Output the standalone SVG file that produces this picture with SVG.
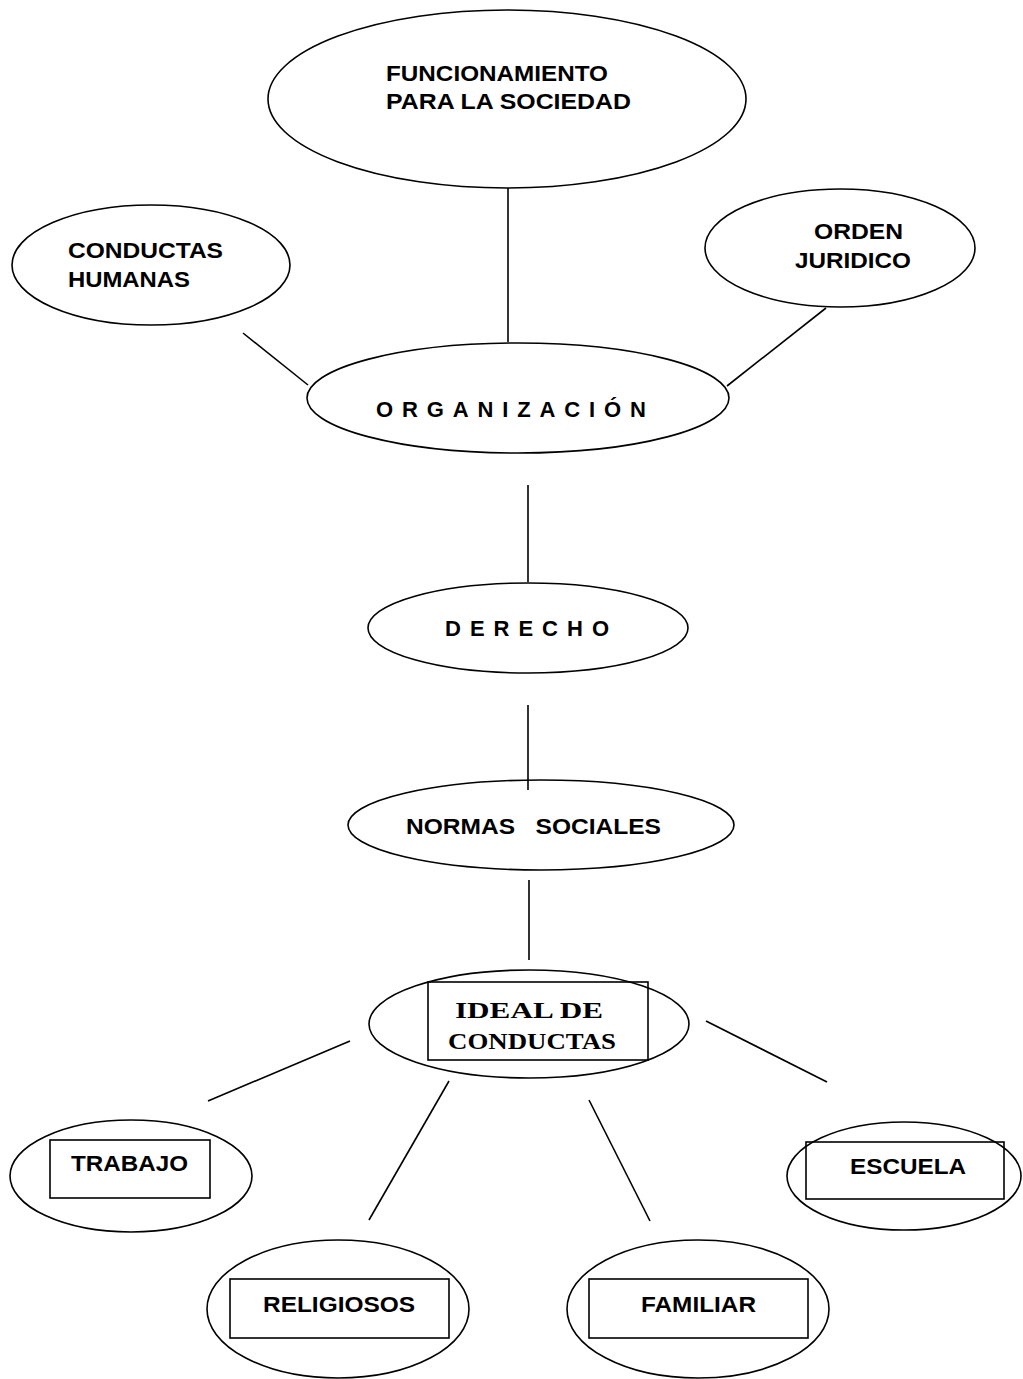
<svg xmlns="http://www.w3.org/2000/svg" width="1023" height="1379" viewBox="0 0 1023 1379">
<style>
.e{fill:none;stroke:#000;stroke-width:1.6}
.r{fill:none;stroke:#000;stroke-width:1.6}
.c line{stroke:#000;stroke-width:1.6}
.t{font-family:"Liberation Sans",Arial,sans-serif;font-weight:bold;font-size:22px;fill:#000}
.tt{font-family:"Liberation Serif","Times New Roman",serif;font-weight:bold;font-size:24px;fill:#000}
</style>
<rect width="1023" height="1379" fill="#fff"/>
<g id="connectors" class="c">
<line x1="508" y1="188" x2="508" y2="342"/>
<line x1="243" y1="333" x2="308" y2="385"/>
<line x1="826" y1="308" x2="727" y2="386"/>
<line x1="528" y1="485" x2="528" y2="582"/>
<line x1="528" y1="705" x2="528" y2="790"/>
<line x1="529" y1="880" x2="529" y2="960"/>
<line x1="350" y1="1041" x2="208" y2="1101"/>
<line x1="449" y1="1081" x2="369" y2="1220"/>
<line x1="589" y1="1100" x2="650" y2="1221"/>
<line x1="706" y1="1021" x2="827" y2="1082"/>
</g>
<g id="funcionamiento">
<ellipse class="e" cx="507" cy="99" rx="239" ry="89"/>
<text class="t" x="386" y="81" textLength="222" lengthAdjust="spacingAndGlyphs">FUNCIONAMIENTO</text>
<text class="t" x="386" y="109" textLength="245" lengthAdjust="spacingAndGlyphs">PARA LA SOCIEDAD</text>
</g>
<g id="conductas-humanas">
<ellipse class="e" cx="151" cy="265" rx="139" ry="60"/>
<text class="t" x="68" y="258" textLength="155" lengthAdjust="spacingAndGlyphs">CONDUCTAS</text>
<text class="t" x="68" y="287" textLength="122" lengthAdjust="spacingAndGlyphs">HUMANAS</text>
</g>
<g id="orden-juridico">
<ellipse class="e" cx="840" cy="248" rx="135" ry="59"/>
<text class="t" x="814" y="239" textLength="89" lengthAdjust="spacingAndGlyphs">ORDEN</text>
<text class="t" x="795" y="268" textLength="116" lengthAdjust="spacingAndGlyphs">JURIDICO</text>
</g>
<g id="organizacion">
<ellipse class="e" cx="518" cy="398" rx="211" ry="55"/>
<text class="t" x="376" y="417" font-size="19" textLength="270" lengthAdjust="spacing">ORGANIZACIÓN</text>
</g>
<g id="derecho">
<ellipse class="e" cx="528" cy="628" rx="160" ry="45"/>
<text class="t" x="445" y="636" font-size="19" textLength="164" lengthAdjust="spacing">DERECHO</text>
</g>
<g id="normas-sociales">
<ellipse class="e" cx="541" cy="825" rx="193" ry="45"/>
<text class="t" x="406" y="834" textLength="255" lengthAdjust="spacingAndGlyphs" xml:space="preserve">NORMAS   SOCIALES</text>
</g>
<g id="ideal-de-conductas">
<ellipse class="e" cx="529" cy="1024" rx="160" ry="54"/>
<rect class="r" x="428" y="982" width="220" height="78"/>
<text class="tt" x="455" y="1018" textLength="148" lengthAdjust="spacingAndGlyphs">IDEAL DE</text>
<text class="tt" x="448" y="1049" textLength="168" lengthAdjust="spacingAndGlyphs">CONDUCTAS</text>
</g>
<g id="trabajo">
<ellipse class="e" cx="131" cy="1176" rx="121" ry="56"/>
<rect class="r" x="50" y="1140" width="160" height="58"/>
<text class="t" x="71" y="1171" textLength="117" lengthAdjust="spacingAndGlyphs">TRABAJO</text>
</g>
<g id="escuela">
<ellipse class="e" cx="904" cy="1176" rx="117" ry="54"/>
<rect class="r" x="806" y="1142" width="198" height="57"/>
<text class="t" x="850" y="1174" textLength="116" lengthAdjust="spacingAndGlyphs">ESCUELA</text>
</g>
<g id="religiosos">
<ellipse class="e" cx="338" cy="1309" rx="131" ry="69"/>
<rect class="r" x="230" y="1279" width="219" height="59"/>
<text class="t" x="263" y="1312" textLength="152" lengthAdjust="spacingAndGlyphs">RELIGIOSOS</text>
</g>
<g id="familiar">
<ellipse class="e" cx="698" cy="1309" rx="131" ry="69"/>
<rect class="r" x="589" y="1279" width="219" height="59"/>
<text class="t" x="641" y="1312" textLength="115" lengthAdjust="spacingAndGlyphs">FAMILIAR</text>
</g>
</svg>
